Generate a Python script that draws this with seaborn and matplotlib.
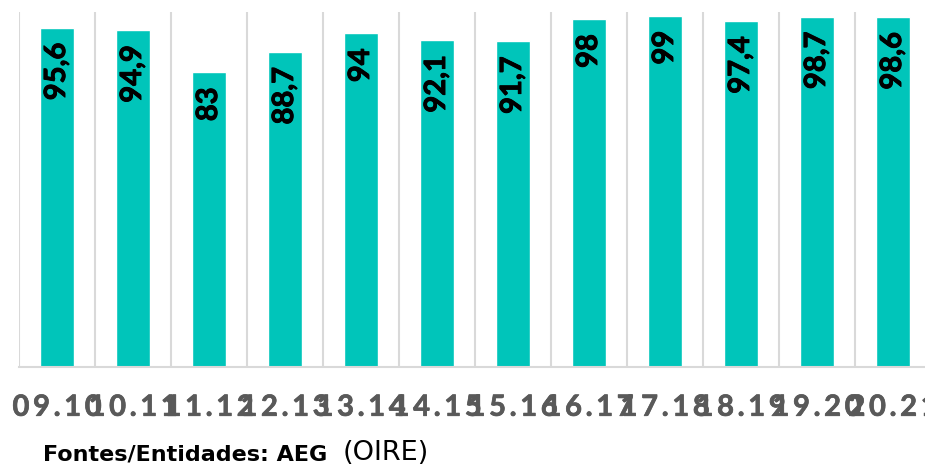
import matplotlib
matplotlib.use("Agg")
import matplotlib.pyplot as plt
import matplotlib.patheffects as pe
import seaborn as sns
import pandas as pd

# School years and their rates
seasons = ["09.10", "10.11", "11.12", "12.13", "13.14", "14.15",
           "15.16", "16.17", "17.18", "18.19", "19.20", "20.21"]
rates = [95.6, 94.9, 83.0, 88.7, 94.0, 92.1, 91.7, 98.0, 99.0, 97.4, 98.7, 98.6]
source_bold = "Fontes/Entidades: AEG"
source_plain = "(OIRE)"

BAR_COLOR = "#00C5BA"
GRID_COLOR = "#D9D9D9"
TICK_COLOR = "#595959"

sns.set_style("white")
plt.rcParams["font.family"] = ["Lato", "DejaVu Sans"]

df = pd.DataFrame({"season": seasons, "rate": rates})

fig = plt.figure(figsize=(9.25, 4.69), dpi=100)
ax = fig.add_axes([19 / 925, 102 / 469, 912 / 925, 355 / 469])

sns.barplot(data=df, x="season", y="rate", color=BAR_COLOR, saturation=1,
            width=0.45, ax=ax)

ax.set_ylim(0, 100)
ax.set_xlim(-0.5, len(seasons) - 0.5)

# vertical separators between categories
for b in [i - 0.5 for i in range(len(seasons) + 1)]:
    ax.axvline(b, color=GRID_COLOR, lw=1.5, zorder=0)

for side in ["top", "right", "left"]:
    ax.spines[side].set_visible(False)
ax.spines["bottom"].set_color(GRID_COLOR)
ax.spines["bottom"].set_linewidth(1.5)

ax.set_xlabel("")
ax.set_ylabel("")
ax.set_yticks([])


def spaced(label):
    return "\u2009".join(label)


ax.set_xticks(range(len(seasons)))
ax.set_xticklabels([spaced(s) for s in seasons], fontsize=21,
                   fontweight="bold", color=TICK_COLOR)
for t in ax.get_xticklabels():
    t.set_path_effects([pe.withStroke(linewidth=0.5, foreground=TICK_COLOR)])
ax.tick_params(axis="x", length=0, pad=20)


def fmt(v):
    return f"{v:g}".replace(".", ",")


for patch, v in zip(ax.patches, rates):
    ax.annotate(fmt(v), (patch.get_x() + patch.get_width() / 2, v),
                xytext=(0, -15), textcoords="offset pixels",
                rotation=90, ha="center", va="top",
                fontsize=21, fontweight="bold", color="black",
                path_effects=[pe.withStroke(linewidth=0.7, foreground="black")])

fig.text(43 / 925, 9 / 469, source_bold, fontsize=16, fontweight="bold",
         color="black", va="baseline", ha="left", family="DejaVu Sans")
fig.text(343 / 925, 9 / 469, source_plain, fontsize=19.5, color="black",
         va="baseline", ha="left", family="DejaVu Sans")

fig.savefig("out.png", dpi=100)
